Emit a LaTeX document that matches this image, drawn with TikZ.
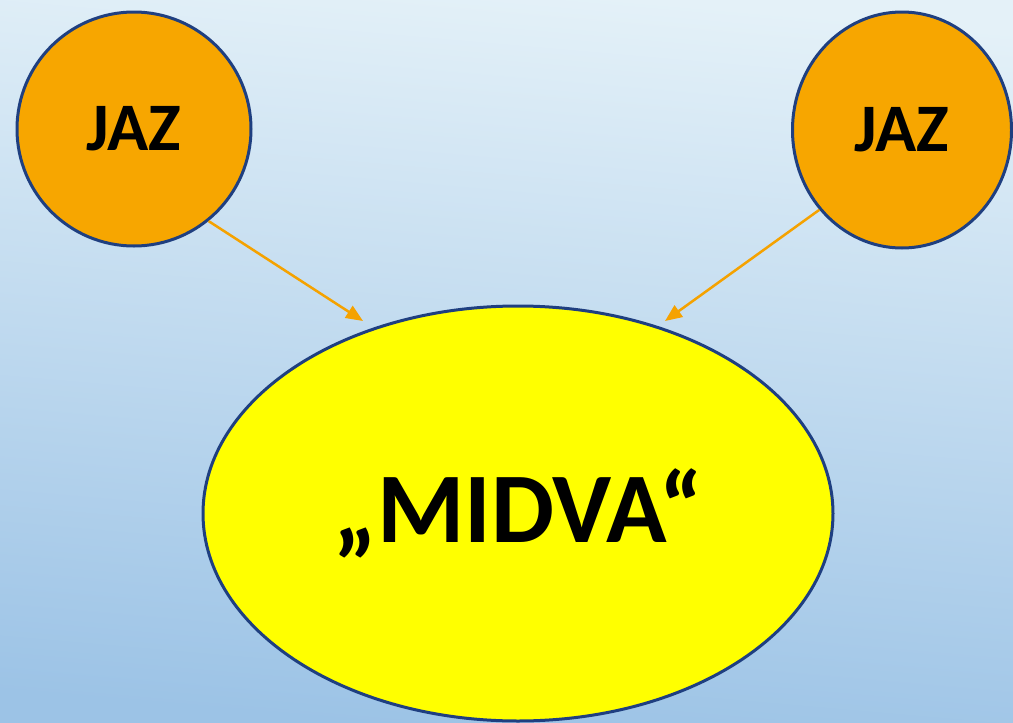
\documentclass[tikz,border=0pt]{standalone}
\usepackage{fontspec}
\setmainfont{Carlito}
\usetikzlibrary{arrows.meta,shapes.geometric}
\definecolor{bgtop}{RGB}{228,241,248}
\definecolor{bgbot}{RGB}{156,195,230}
\definecolor{orangefill}{RGB}{247,166,0}
\definecolor{edgeblue}{RGB}{31,63,128}
\definecolor{arrorange}{RGB}{245,162,0}
\definecolor{yel}{RGB}{255,255,0}
\tikzset{
  jaz/.style={ellipse, draw=edgeblue, line width=3pt, fill=orangefill, inner sep=0pt,
    font=\fontsize{68}{68}\selectfont\bfseries, text=black},
  midva/.style={ellipse, draw=edgeblue, line width=3pt, fill=yel, inner sep=0pt,
    minimum width=630pt, minimum height=415pt, font=\fontsize{100}{100}\selectfont\bfseries, text=black},
  link/.style={draw=arrorange, line width=2.5pt, -{Triangle[length=17pt,width=14pt]}}
}
\begin{document}
\begin{tikzpicture}[x=1pt,y=-1pt]
\shade[top color=bgtop, bottom color=bgbot, shading angle=-5] (0,0) rectangle (1013,723);
\useasboundingbox (0,0) rectangle (1013,723);
\node[jaz, minimum width=234pt, minimum height=234pt] (L) at (134,129) {JAZ};
\node[jaz, minimum width=219pt, minimum height=236pt] (R) at (902,130) {JAZ};
\node[midva] (M) at (518,513.5) {„MIDVA“};
\coordinate (tl) at (363,321);
\coordinate (tr) at (665,321);
\draw[link] (L.-51) -- (tl);
\draw[link] (R.-136) -- (tr);
\end{tikzpicture}
\end{document}
